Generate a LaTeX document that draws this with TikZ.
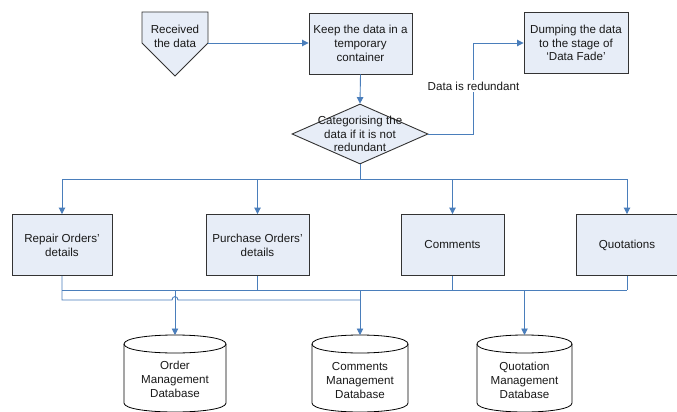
\documentclass[tikz,border=0pt]{standalone}
\usepackage{fontspec}
\setmainfont{Liberation Sans}
\usetikzlibrary{shapes.geometric,arrows.meta}
\definecolor{lineblue}{HTML}{4A7EBB}
\definecolor{boxfill}{HTML}{E7EDF7}
\definecolor{boxline}{HTML}{333333}
\begin{document}
\begin{tikzpicture}[x=1pt,y=-1pt,
  every node/.style={font=\fontsize{11.6}{13.8}\selectfont, text=black!90},
  flow/.style={draw=lineblue, line width=0.9pt},
  arr/.style={flow, -{Triangle[length=6.5pt,width=6.5pt]}},
  procbox/.style={rectangle, draw=boxline, fill=boxfill, line width=0.9pt,
    align=center, inner sep=0pt, minimum height=61pt},
  txt/.style={align=center, inner sep=0pt},
  dbline/.style={draw=black, line width=0.8pt, fill=white}
]
\clip (0,0) rectangle (677,412);
\fill[white] (0,0) rectangle (677,412);

% Received the data (off-page connector)
\draw[draw=boxline, fill=boxfill, line width=0.9pt]
  (142,12) -- (208,12) -- (208,43) -- (175,76) -- (142,43) -- cycle;
\node[txt] (recv) at (175,36) {Received\\the data};
\coordinate (recvR) at (208,43);

\node[procbox, minimum width=103pt] (keep) at (360.5,43.5) {Keep the data in a\\temporary\\container};
\node[procbox, minimum width=104pt] (dump) at (576,43) {Dumping the data\\to the stage of\\‘Data Fade’};

\node[diamond, draw=boxline, fill=boxfill, line width=0.9pt, minimum width=136pt,
  minimum height=60pt, inner sep=0pt] (cat) at (360,134) {};
\node[txt] (cattxt) at (360,134) {Categorising the\\data if it is not\\redundant};

\draw[arr] (recvR) -- (keep.west |- recvR);
\draw[arr] (keep.south) -- (cat.north);
\coordinate (rt) at (473,134);
\draw[arr] (cat.east) -- (rt) -- (rt |- dump.west) -- (dump.west);
\node[txt, fill=white, inner sep=1.5pt] (redlbl) at (473.5,86) {Data is redundant};

% second row
\node[procbox, minimum width=100pt] (rep) at (62,245) {Repair Orders’\\details};
\node[procbox, minimum width=103pt] (pur) at (257.5,245) {Purchase Orders’\\details};
\node[procbox, minimum width=103pt] (com) at (452.5,245) {Comments};
\node[procbox, minimum width=102pt] (quo) at (627,245) {Quotations};

\coordinate (bus) at (360,179);
\draw[flow] (cat.south) -- (bus);
\draw[flow] (rep.north |- bus) -- (quo.north |- bus);
\foreach \n in {rep,pur,com,quo}{
  \draw[arr] (\n.north |- bus) -- (\n.north);
}

% databases
\newcommand{\dbcyl}[3]{% center x, half width, name
  \draw[dbline] (#1-#2,344) -- (#1-#2,403)
    .. controls (#1-#2,415) and (#1+#2,415) .. (#1+#2,403)
    -- (#1+#2,344)
    .. controls (#1+#2,332) and (#1-#2,332) .. (#1-#2,344) -- cycle;
  \draw[dbline, fill=none] (#1-#2,344) .. controls (#1-#2,356) and (#1+#2,356) .. (#1+#2,344);
  \coordinate (#3) at (#1,335);
}
\dbcyl{175}{51}{odb}
\dbcyl{360}{48}{cdb}
\dbcyl{524.5}{47.5}{qdb}
\node[txt] (odbtxt) at (175,379.5) {Order\\Management\\Database};
\node[txt] (cdbtxt) at (360,380.5) {Comments\\Management\\Database};
\node[txt] (qdbtxt) at (524.5,380.5) {Quotation\\Management\\Database};

% bottom connectors
\coordinate (b1) at (0,290);
\coordinate (b2) at (0,300);
\draw[flow] (rep.south |- b1) -- (quo.south |- b1);
\draw[flow] (pur.south) -- (pur.south |- b1);
\draw[flow] (com.south) -- (com.south |- b1);
\draw[flow] (quo.south) -- (quo.south |- b1);
\draw[flow] (rep.south) -- (rep.south |- b2) -- (172,300)
  .. controls (172,295.5) and (178,295.5) .. (178,300) -- (cdb |- b2);
\draw[arr] (odb |- b1) -- (odb);
\draw[arr] (cdb |- b1) -- (cdb);
\draw[arr] (qdb |- b1) -- (qdb);
\end{tikzpicture}
\end{document}
